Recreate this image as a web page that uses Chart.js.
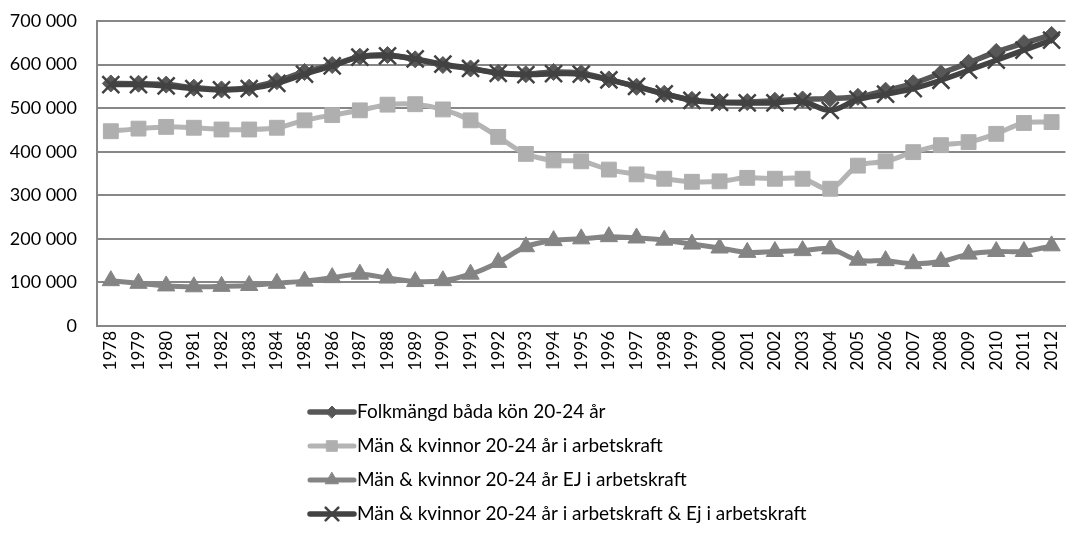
<!DOCTYPE html>
<html>
<head>
<meta charset="utf-8">
<script src="https://cdn.jsdelivr.net/npm/chart.js@4/dist/chart.umd.min.js"></script>
<style>
  html, body { margin: 0; padding: 0; background: #ffffff; overflow: hidden; }
  #wrap { position: relative; width: 1077px; height: 534px; }
</style>
</head>
<body>
<div id="wrap"><canvas id="laborChart" width="1077" height="534"></canvas></div>
<script>
// data
const years = ["1978", "1979", "1980", "1981", "1982", "1983", "1984", "1985", "1986", "1987",
    "1988", "1989", "1990", "1991", "1992", "1993", "1994", "1995", "1996", "1997",
    "1998", "1999", "2000", "2001", "2002", "2003", "2004", "2005", "2006", "2007",
    "2008", "2009", "2010", "2011", "2012"];

const folkmangd = [556600, 556000, 554000, 547000, 543000, 547000, 562000, 583000, 599000, 618000,
    622000, 612000, 599000, 591000, 581000, 578000, 583000, 580000, 566000, 549000,
    533000, 519000, 514000, 514000, 517000, 520000, 522000, 526000, 540000, 557000,
    580000, 604000, 629000, 649000, 668000];

const iArbetskraft = [447000, 453000, 457000, 455000, 451000, 451000, 455000, 472000, 484000, 495000,
    508000, 509000, 497000, 472000, 434000, 395000, 380000, 378000, 359000, 348000,
    338000, 331000, 332000, 340000, 338000, 338000, 315000, 368000, 378000, 399000,
    415000, 422000, 441000, 466000, 468000];

const ejArbetskraft = [104000, 98000, 92000, 90000, 91000, 93000, 98000, 103000, 111000, 119000,
    110000, 102000, 104000, 119000, 146000, 182000, 196000, 200000, 205000, 202000,
    197000, 188000, 179000, 169000, 171000, 173000, 177000, 151000, 150000, 143000,
    148000, 165000, 171000, 171000, 184000];

const summaArbetskraft = [554000, 554000, 551000, 545000, 542000, 545000, 557000, 578000, 597000, 617000,
    620000, 613000, 601000, 591000, 580000, 577000, 579000, 578000, 565000, 550000,
    533000, 518000, 513000, 512000, 512000, 515000, 495000, 520000, 532000, 545000,
    564000, 587000, 610000, 633000, 656000];

const seriesNames = [
    "Folkmängd båda kön 20-24 år",
    "Män & kvinnor 20-24 år i arbetskraft",
    "Män & kvinnor 20-24 år EJ i arbetskraft",
    "Män & kvinnor 20-24 år i arbetskraft & Ej i arbetskraft"
];

const FONT = "Lato, 'Open Sans', sans-serif";
const GRID = "#878787";

function fmtThousands(v) {
    return String(v).replace(/\B(?=(\d{3})+(?!\d))/g, " ");
}

// legend drawn as stacked rows under the axis, Excel style
const stackedLegend = {
    id: "stackedLegend",
    afterDraw(chart) {
        const ctx = chart.ctx;
        const x0 = 310, x1 = 354, textX = 357;
        const rowY = [412, 446, 480, 514];
        const legendMarks = [
            { pointStyle: "rectRot", radius: 6 },
            { pointStyle: "rect", radius: 7.5 },
            { pointStyle: "triangle", radius: 7.5 },
            { pointStyle: "crossRot", radius: 9 }
        ];
        chart.data.datasets.forEach((ds, i) => {
            const y = rowY[i];
            ctx.save();
            ctx.strokeStyle = ds.borderColor;
            ctx.lineWidth = ds.borderWidth;
            ctx.lineCap = "round";
            ctx.beginPath();
            ctx.moveTo(x0, y);
            ctx.lineTo(x1, y);
            ctx.stroke();

            ctx.fillStyle = ds.pointBackgroundColor;
            ctx.strokeStyle = ds.pointBorderColor;
            ctx.lineWidth = ds.pointBorderWidth;
            Chart.helpers.drawPoint(ctx, {
                pointStyle: legendMarks[i].pointStyle,
                radius: legendMarks[i].radius,
                rotation: 0,
                borderWidth: ds.pointBorderWidth
            }, (x0 + x1) / 2, y);

            ctx.fillStyle = "#000000";
            ctx.font = "19px " + FONT;
            ctx.textAlign = "left";
            ctx.textBaseline = "middle";
            ctx.fillText(seriesNames[i], textX, y);
            ctx.restore();
        });
    }
};

const ctx = document.getElementById("laborChart").getContext("2d");

new Chart(ctx, {
    type: "line",
    data: {
        labels: years,
        datasets: [{
            label: seriesNames[0],
            data: folkmangd,
            borderColor: "#575757",
            borderWidth: 5.5,
            pointStyle: "rectRot",
            pointRadius: 8.5,
            pointBackgroundColor: "#575757",
            pointBorderColor: "#575757",
            pointBorderWidth: 1,
            tension: 0.35,
            order: 3
        }, {
            label: seriesNames[1],
            data: iArbetskraft,
            borderColor: "#b4b4b4",
            borderWidth: 5,
            pointStyle: "rect",
            pointRadius: 10.5,
            pointBackgroundColor: "#afafaf",
            pointBorderColor: "#afafaf",
            pointBorderWidth: 1,
            tension: 0.35,
            order: 2
        }, {
            label: seriesNames[2],
            data: ejArbetskraft,
            borderColor: "#848484",
            borderWidth: 5,
            pointStyle: "triangle",
            pointRadius: 10,
            pointBackgroundColor: "#848484",
            pointBorderColor: "#848484",
            pointBorderWidth: 1,
            tension: 0.35,
            order: 1
        }, {
            label: seriesNames[3],
            data: summaArbetskraft,
            borderColor: "#424242",
            borderWidth: 5.5,
            pointStyle: "crossRot",
            pointRadius: 12,
            pointBackgroundColor: "#424242",
            pointBorderColor: "#424242",
            pointBorderWidth: 2.5,
            tension: 0.35,
            order: 0
        }]
    },
    options: {
        responsive: false,
        animation: false,
        devicePixelRatio: 1,
        layout: { autoPadding: false, padding: { top: 21, right: 0, left: 0, bottom: 0 } },
        plugins: {
            legend: { display: false },
            tooltip: { enabled: false }
        },
        scales: {
            x: {
                offset: true,
                grid: { display: false, drawTicks: false },
                border: { display: true, color: GRID, width: 2 },
                ticks: {
                    color: "#000000",
                    font: { family: FONT, size: 17 },
                    maxRotation: 90,
                    minRotation: 90,
                    autoSkip: false,
                    padding: 5
                },
                afterFit(scale) { scale.height = 534 - 326; }
            },
            y: {
                min: 0,
                max: 700000,
                // invisible tick marks keep the labels 20px off the axis
                grid: { color: GRID, lineWidth: 2, drawTicks: true, tickLength: 20, tickColor: "rgba(0,0,0,0)" },
                border: { display: true, color: GRID, width: 2 },
                ticks: {
                    stepSize: 100000,
                    color: "#000000",
                    font: { family: FONT, size: 18 },
                    padding: 0,
                    callback: v => fmtThousands(v)
                },
                afterFit(scale) { scale.width = 97; }
            }
        }
    },
    plugins: [stackedLegend]
});
</script>
</body>
</html>
